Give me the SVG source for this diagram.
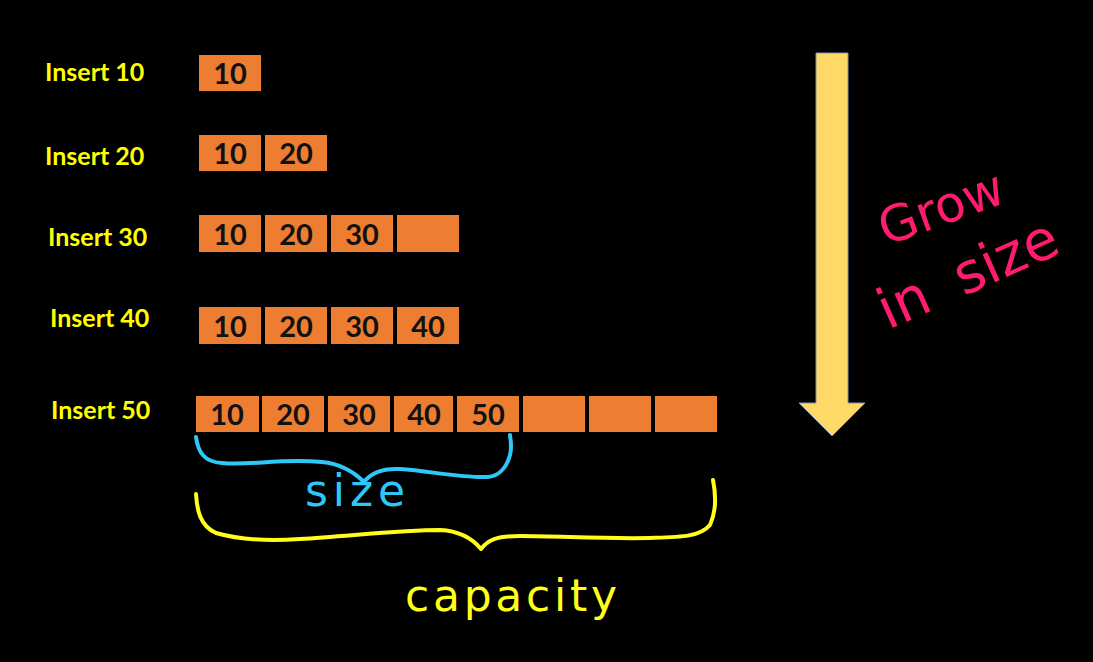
<svg xmlns="http://www.w3.org/2000/svg" width="1093" height="662" viewBox="0 0 1093 662">
<style>
.lbl{font-family:Lato,"Open Sans",sans-serif;font-weight:bold;font-size:25px;fill:#FFFF00}
.cell{fill:#ED7D31}
.num{font-family:Lato,"Open Sans",sans-serif;font-weight:bold;font-size:29px;fill:#111111;text-anchor:middle}
.hand{font-family:"DejaVu Sans",sans-serif;font-weight:normal}
.brace{fill:none;stroke-width:4;stroke-linecap:round;stroke-linejoin:round}
</style>
<rect width="1093" height="662" fill="#000000"/>
<g id="row1">
<text class="lbl" x="45" y="81">Insert 10</text>
<rect class="cell" x="199" y="55" width="62" height="36"/><text class="num" x="230" y="84">10</text>
</g>
<g id="row2">
<text class="lbl" x="45" y="165">Insert 20</text>
<rect class="cell" x="199" y="135" width="62" height="36"/><text class="num" x="230" y="164">10</text>
<rect class="cell" x="265" y="135" width="62" height="36"/><text class="num" x="296" y="164">20</text>
</g>
<g id="row3">
<text class="lbl" x="48" y="246">Insert 30</text>
<rect class="cell" x="199" y="215" width="62" height="37"/><text class="num" x="230" y="245">10</text>
<rect class="cell" x="265" y="215" width="62" height="37"/><text class="num" x="296" y="245">20</text>
<rect class="cell" x="331" y="215" width="62" height="37"/><text class="num" x="362" y="245">30</text>
<rect class="cell" x="397" y="215" width="62" height="37"/>
</g>
<g id="row4">
<text class="lbl" x="50" y="327">Insert 40</text>
<rect class="cell" x="199" y="307" width="62" height="37"/><text class="num" x="230" y="337">10</text>
<rect class="cell" x="265" y="307" width="62" height="37"/><text class="num" x="296" y="337">20</text>
<rect class="cell" x="331" y="307" width="62" height="37"/><text class="num" x="362" y="337">30</text>
<rect class="cell" x="397" y="307" width="62" height="37"/><text class="num" x="428" y="337">40</text>
</g>
<g id="row5">
<text class="lbl" x="51" y="419">Insert 50</text>
<rect class="cell" x="196" y="396" width="63" height="36"/><text class="num" x="227" y="425">10</text>
<rect class="cell" x="262" y="396" width="62" height="36"/><text class="num" x="293" y="425">20</text>
<rect class="cell" x="328" y="396" width="62" height="36"/><text class="num" x="359" y="425">30</text>
<rect class="cell" x="394" y="396" width="59" height="36"/><text class="num" x="424" y="425">40</text>
<rect class="cell" x="457" y="396" width="62" height="36"/><text class="num" x="488" y="425">50</text>
<rect class="cell" x="523" y="396" width="62" height="36"/>
<rect class="cell" x="589" y="396" width="62" height="36"/>
<rect class="cell" x="655" y="396" width="62" height="36"/>
</g>
<g id="grow-arrow">
<polygon points="816,53 848,53 848,403 865,403 832,436 799,403 816,403" fill="#FFD966" stroke="#8497B0" stroke-width="1"/>
</g>
<g id="grow-label">
<text class="hand" transform="translate(886,246) rotate(-20)" font-size="50" fill="#FF1C6E">Grow</text>
<text class="hand" transform="translate(888,330) rotate(-24)" font-size="56" fill="#FF1C6E" word-spacing="14">in size</text>
</g>
<g id="connectors">
<path class="brace" stroke="#2EC8F8" d="M196,437 C198,452 204,462 222,463 C250,466 280,458 322,462 C342,464 356,474 364,482 C370,474 380,468 400,469 C430,471 460,478 488,477 C500,476 507,466 510,455 C512,448 511,442 510,435"/>
<path class="brace" stroke="#FFFF1A" d="M196,494 C197,510 200,526 216,533 C240,540 270,541 300,539 C350,536 400,530 440,530 C460,531 472,538 481,549 C488,540 496,536 520,536 C560,536 600,539 650,538 C680,537 700,537 710,525 C716,512 716,495 713,480"/>
</g>
<g id="size-label">
<text class="hand" x="305" y="506" font-size="44" fill="#2EC8F8" textLength="100" lengthAdjust="spacing">size</text>
</g>
<g id="capacity-label">
<text class="hand" x="405" y="611" font-size="44" fill="#FFFF1A" textLength="212" lengthAdjust="spacing">capacity</text>
</g>
</svg>
